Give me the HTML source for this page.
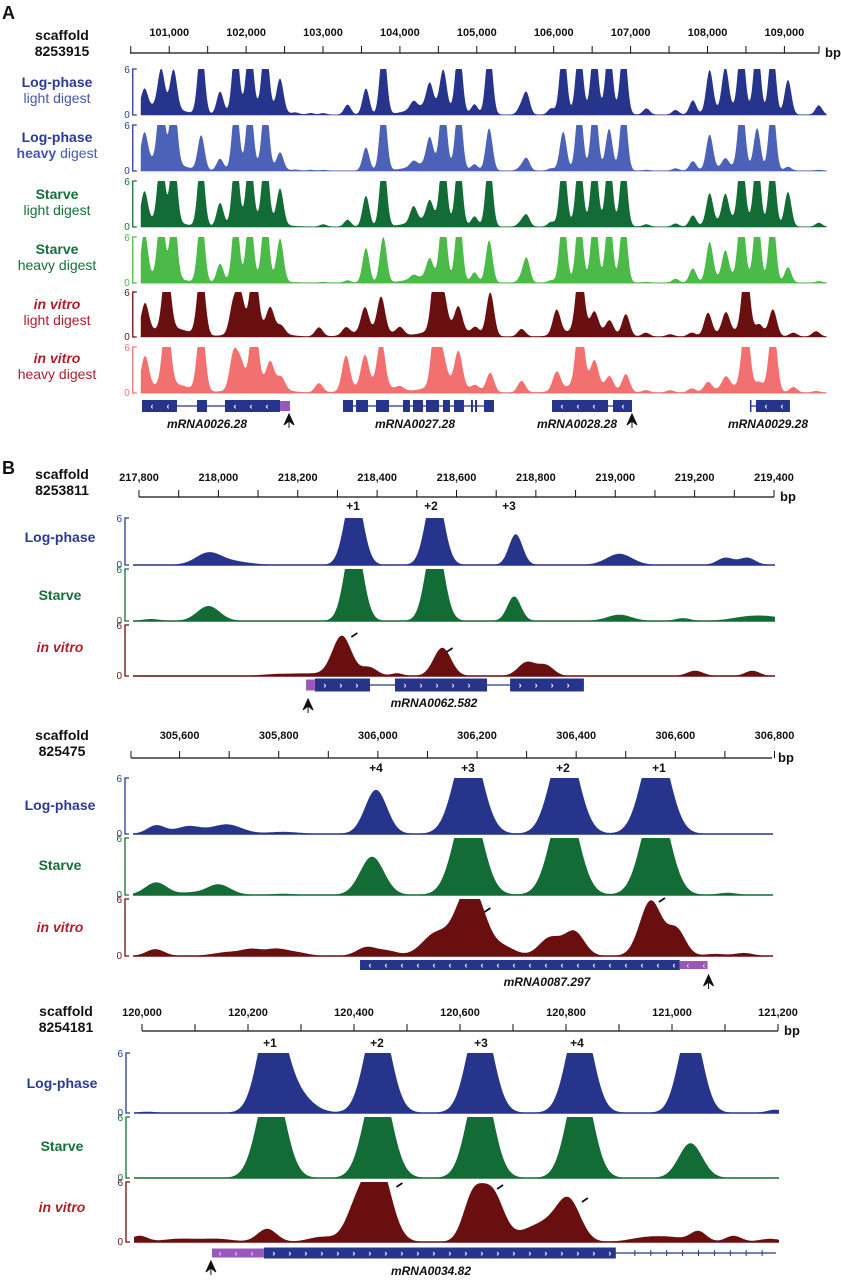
<!DOCTYPE html>
<html><head><meta charset="utf-8"><style>
html,body{margin:0;padding:0;background:#fff}
svg{display:block}
text{font-family:"Liberation Sans",Arial,sans-serif}
</style></head><body>
<svg id="fig" xmlns="http://www.w3.org/2000/svg" width="841" height="1280" viewBox="0 0 841 1280"></svg>
<script>
// ---------- Panel A data ----------
const aPos = [100677,100895,101056,101415,101661,101864,102047,102251,102441,102644,102841,103003,103319,103558,103783,104176,104387,104563,104766,104970,105160,105568,105645,105968,106123,106333,106530,106720,106910,107205,107584,107809,108027,108231,108442,108645,108842,109046,109447];
const aLogLight = [2.6,4.8,5.0,9,2.9,9,9,9,4.3,0.2,0.2,0.2,1.3,3.4,9,1.0,3.0,5.0,9,1.3,9,0.9,2.8,0.8,9,9,9,9,9,0.8,0.6,1.8,5.5,5.5,9,9,9,4.5,1.2];
const aLogHeavy = [4,9,9,4.5,1.5,9,9,9,2.2,0.1,0.1,0.1,0,3,9,0.7,3.5,9,9,0.8,5.5,0.4,1.6,0.3,5,9,9,5.3,9,0.1,0.3,1.2,4.5,1.2,9,5.3,9,0.5,0.1];
const aStarveLight = [4,9,9,9,3,9,9,9,4.6,0,0,0.3,0.9,4,9,2,2.5,9,9,1.3,9,0.5,1.5,0.6,9,9,9,9,9,0.3,0.4,1.4,4,3.5,9,9,9,4.5,0.5];
const aStarveHeavy = [6,9,9,9,2.4,9,9,9,5.5,0,0,0.1,0.3,4.5,5.9,0.5,2.4,9,9,1.3,5.5,0.5,3.2,0.3,9,9,9,9,9,0.1,0.5,1.8,5,3.5,9,9,9,2.0,0.2];
const aBgPos = [100880,102150,104380,106520,108350];
const aBgLogLight = [1.2,0.9,1.2,0.5,0.8];
const aBgLogHeavy = [1.5,0.4,0.9,0.2,0.5];
const aBgStarveLight = [0.9,0.8,1.0,0.5,0.9];
const aBgStarveHeavy = [0.9,0.5,0.8,0.3,0.8];
const vPos = [100684,100965,101415,101836,101928,102103,102314,102455,102947,103298,103544,103755,104001,104464,104563,104760,104984,105174,105582,106038,106341,106530,106727,106938,107198,107514,107795,108006,108238,108498,108674,108850,109116,109411];
const vLight = [4.0,9,9,4.0,4.7,9,3,1,1.2,1,3.2,4.6,1,9,4.4,3.1,1,5.8,1,3.3,9,2.5,1.8,2.9,0.5,0.3,0.5,3,2.7,9,1.3,3.5,0.5,0.7];
const vHeavy = [4.3,9,9,4.5,3,9,3,1.5,1.2,4.5,4,6,0.5,9,3,4.5,0.7,2.5,1.5,2.4,9,3.2,1.7,2.3,0.3,0.3,0.5,1.2,1.5,9,1,9,0.7,0.2];
const vBgPos = [101000,102150,103650,104600,106400,108400];
const vBgLight = [1.2,1.2,0.8,1.2,1.0,0.7];
const vBgHeavy = [1.2,1.4,1.0,1.2,1.2,0.8];
const aTicks = [101000,102000,103000,104000,105000,106000,107000,108000,109000];
const aTickLabels = ["101,000","102,000","103,000","104,000","105,000","106,000","107,000","108,000","109,000"];
const aMinor = [100500,101500,102500,103500,104500,105500,106500,107500,108500,109450];

// ---------- Panel B1 data ----------
const b1Ticks = [217800,218000,218200,218400,218600,218800,219000,219200,219400];
const b1TickLabels = ["217,800","218,000","218,200","218,400","218,600","218,800","219,000","219,200","219,400"];
const b1Minor = [217900,218100,218300,218500,218700,218900,219100,219300];
const b1LogPos = [217975,218040,218341,218545,218749,219010,219277,219332];
const b1LogVal = [1.5,0.4,10,10,3.9,1.4,0.9,0.9];
const b1StarvePos = [217830,217975,218341,218545,218745,219010,219170,219330,219390];
const b1StarveVal = [0.2,1.7,10,10,2.8,0.7,0.3,0.4,0.4];
const b1VitroPos = [218150,218230,218311,218380,218450,218564,218777,218825,219201,219345];
const b1VitroVal = [0.2,0.25,4.7,1.0,0.3,3.3,1.6,1.2,0.6,0.6];

// ---------- Panel B2 data ----------
const b2Ticks = [305600,305800,306000,306200,306400,306600,306800];
const b2TickLabels = ["305,600","305,800","306,000","306,200","306,400","306,600","306,800"];
const b2Minor = [305502,305700,305900,306100,306300,306500,306700];
const b2LogPos = [305553,305618,305695,305809,305996,306182,306376,306560];
const b2LogVal = [0.9,0.8,1.0,0.2,4.7,10,10,10];
const b2StarvePos = [305553,305620,305678,305809,305988,306182,306376,306560,306705];
const b2StarveVal = [1.3,0.2,1.1,0.1,4.0,10,10,10,0.2];
const b2VitroPos = [305551,305700,305747,305792,305830,305977,306020,306118,306173,306200,306250,306347,306396,306550,306602,306680,306738];
const b2VitroVal = [0.7,0.4,0.6,0.6,0.4,0.9,0.5,2.4,4.5,4.4,1.0,1.9,2.5,5.8,2.7,0.2,0.3];

// ---------- Panel B3 data ----------
const b3Ticks = [120000,120200,120400,120600,120800,121000,121200];
const b3TickLabels = ["120,000","120,200","120,400","120,600","120,800","121,000","121,200"];
const b3Minor = [120100,120300,120500,120700,120900,121100];
const b3LogPos = [120010,120244,120285,120445,120638,120826,121035,121195];
const b3LogVal = [0.1,10,2.2,10,10,10,9,0.3];
const b3StarvePos = [120244,120445,120638,120826,121035];
const b3StarveVal = [10,10,10,10,3.4];
const b3VitroPos = [119995,120070,120140,120236,120340,120404,120445,120623,120660,120730,120770,120806,120950,121000,121050,121116,121185];
const b3VitroVal = [0.6,0.3,0.3,1.3,0.5,3.0,8,4.0,5.0,1.0,1.5,3.9,0.4,0.4,1.0,0.6,0.3];

const NS = "http://www.w3.org/2000/svg";
const svg = document.getElementById('fig');
function el(tag, attrs, parent){ const e=document.createElementNS(NS,tag); for(const k in attrs) e.setAttribute(k,attrs[k]); (parent||svg).appendChild(e); return e; }
function txt(str, attrs, parent){ const e=el('text',attrs,parent); e.textContent=str; return e; }
function scale(bp0,bp1,x0,x1){ return bp=> x0+(bp-bp0)*(x1-x0)/(bp1-bp0); }

function drawAxis(g, sx, y, ticks, labels, minor, xA, xB, ly){
  const line=el('line',{x1:xA,y1:y,x2:xB,y2:y,stroke:'#111','stroke-width':1.2},g);
  
  
  ticks.forEach((t,i)=>{
    const x=sx(t);
    el('line',{x1:x,y1:y,x2:x,y2:y-7,stroke:'#111','stroke-width':1},g);
    const tl=txt(labels[i],{x:x,y:ly,'text-anchor':'middle','font-size':11,'font-weight':'bold',fill:'#111'},g);
    
    
  });
  minor.forEach(t=>{ const x=sx(t); el('line',{x1:x,y1:y,x2:x,y2:y-7,stroke:'#111','stroke-width':1},g); });
  const bp=txt('bp',{x:xB+6,y:y+4,'font-size':13,'font-weight':'bold',fill:'#111'},g);
  
  
}

function drawTrack(g, sx, bp0, bp1, x0, x1, top, base, pos, val, sigma, bgPos, bgVal, bgSigma, color, axisColor, baseColor, floor){
  const g2=el('g',{},g);
  
  
  const bx=x0-8;
  el('path',{d:`M${bx+4},${top} H${bx} V${base} H${bx+4}`,fill:'none',stroke:axisColor,'stroke-width':1.3},g2);
  txt('6',{x:bx-3,y:top+4,'text-anchor':'end','font-size':10,fill:axisColor},g2);
  txt('0',{x:bx-3,y:base+3,'text-anchor':'end','font-size':10,fill:axisColor},g2);
  el('line',{x1:x0,y1:base,x2:x1,y2:base,stroke:baseColor,'stroke-width':1.5},g2);
  let d=`M${x0},${base}`;
  const k=(bp1-bp0)/(x1-x0);
  for(let px=x0; px<=x1; px+=0.5){
    const b=bp0+(px-x0)*k;
    let v=floor;
    for(let i=0;i<pos.length;i++){ const s=Array.isArray(sigma)?sigma[i]:sigma; const z=(b-pos[i])/s; if(Math.abs(z)<6) v+=val[i]*Math.exp(-z*z/2); }
    if(bgPos) for(let i=0;i<bgPos.length;i++){ const z=(b-bgPos[i])/bgSigma; v+=bgVal[i]*Math.exp(-z*z/2); }
    v=Math.min(v,6);
    d+=` L${px.toFixed(1)},${(base-v/6*(base-top)).toFixed(1)}`;
  }
  d+=` L${x1},${base} Z`;
  const p=el('path',{d:d,fill:color,stroke:'none'},g2);
  
  
}

function label2(g, x, y, l1, l2, c1, c2, it, boldWord){
  const t=txt('',{x:x,y:y,'text-anchor':'middle','font-size':14,'font-weight':'bold',fill:c1,'font-style':it?'italic':'normal'},g);
  t.textContent=l1;
  
  
  if(l2){
    const t2=el('text',{x:x,y:y+16,'text-anchor':'middle','font-size':14,fill:c2},g);
    
    
    if(boldWord){ const s=el('tspan',{'font-weight':'bold'},t2); s.textContent=boldWord+' '; }
    const s2=el('tspan',{},t2); s2.textContent=l2;
  }
}

function gene(g, sx, y, h, exons, utr, lineA, lineB, chev, color){
  const gg=el('g',{},g);
  
  
  el('line',{x1:sx(lineA),y1:y,x2:sx(lineB),y2:y,stroke:color,'stroke-width':1.3},gg);
  exons.forEach(e=>{
    const xa=sx(e[0]), xb=sx(e[1]);
    el('rect',{x:xa,y:y-h/2,width:Math.max(1.5,xb-xa),height:h,fill:color},gg);
    if(chev) for(let x=xa+10; x<xb-5; x+=16) txt(chev,{x:x,y:y+3,'font-size':9,'font-weight':'bold',fill:'#fff','text-anchor':'middle'},gg);
  });
  if(utr){ const xa=sx(utr[0]), xb=sx(utr[1]); el('rect',{x:xa,y:y-h/2+1,width:xb-xa,height:h-2,fill:'#9a58b8'},gg);
    if(chev) for(let x=xa+8; x<xb-3; x+=16) txt(chev,{x:x,y:y+3,'font-size':8,fill:'#fff','text-anchor':'middle'},gg); }
}
function arrow(g,x,y){
  const a=el('path',{d:`M${x},${y} L${x-5},${y+11} L${x},${y+7} L${x+5},${y+11} Z M${x},${y+6} V${y+14}`,fill:'#111',stroke:'#111','stroke-width':1},g);
  
  
}
function italicLabel(g,s,x,y){ const t=txt(s,{x:x,y:y,'text-anchor':'middle','font-size':12,'font-weight':'bold','font-style':'italic',fill:'#111'},g);   }
function dash(g,x,y){ const d=el('line',{x1:x,y1:y,x2:x+6,y2:y-4,stroke:'#111','stroke-width':1.8},g);   }
function scaffold(g,x,y,id){ txt('scaffold',{x:x,y:y,'text-anchor':'middle','font-size':14,'font-weight':'bold',fill:'#111'},g); txt(id,{x:x,y:y+16,'text-anchor':'middle','font-size':14,'font-weight':'bold',fill:'#111'},g); }
function nlabel(g,s,x,y){ const t=txt(s,{x:x,y:y,'text-anchor':'middle','font-size':12,'font-weight':'bold',fill:'#111'},g);   }

const BLUE='#27348b', BLUE2='#4b62b6', GREEN='#136b35', GREEN2='#4bba48', RED='#6a0f10', RED2='#f2706f';
const LBLUE='#2b3a94', LGREEN='#15703a', LRED='#b01e2a';

// ---------- Panel A ----------
const gA=el('g',{});  
txt('A',{x:2,y:19,'font-size':18,'font-weight':'bold',fill:'#111'},gA);
scaffold(gA,62,40,'8253915');
const sA=scale(100490,109450,130,819);
drawAxis(gA,sA,53,aTicks,aTickLabels,aMinor,130,819,36);
const aBp0=100630, aBp1=109550;
const aX0=sA(aBp0), aX1=sA(aBp1);
const aTracks=[
 [69,115,aLogLight,aBgLogLight,BLUE,LBLUE],
 [125,171,aLogHeavy,aBgLogHeavy,BLUE2,LBLUE],
 [181,227,aStarveLight,aBgStarveLight,GREEN,LGREEN],
 [237,283,aStarveHeavy,aBgStarveHeavy,GREEN2,GREEN2]];
aTracks.forEach(t=>drawTrack(gA,sA,aBp0,aBp1,aX0,aX1,t[0],t[1],aPos,t[2],44,aBgPos,t[3],230,t[4],t[5],'#bbb',0.05));
drawTrack(gA,sA,aBp0,aBp1,aX0,aX1,292,337,vPos,vLight,50,vBgPos,vBgLight,230,RED,'#6a0f10','#bbb',0.07);
drawTrack(gA,sA,aBp0,aBp1,aX0,aX1,347,393,vPos,vHeavy,50,vBgPos,vBgHeavy,230,RED2,RED2,'#bbb',0.07);
label2(gA,57,87,'Log-phase','light digest',LBLUE,'#4658ad');
label2(gA,57,142,'Log-phase','digest',LBLUE,'#4658ad',false,'heavy');
label2(gA,57,199,'Starve','light digest',LGREEN,LGREEN);
label2(gA,57,254,'Starve','heavy digest',LGREEN,LGREEN);
label2(gA,57,309,'in vitro','light digest',LRED,LRED,true);
label2(gA,57,363,'in vitro','heavy digest',LRED,LRED,true);
gene(gA,sA,406,12,[[100646,101101],[101361,101491],[101725,102441]],[102441,102571],100646,102441,'‹',BLUE);
gene(gA,sA,406,12,[[103260,103390],[103429,103585],[103689,103858],[104040,104131],[104170,104300],[104339,104508],[104560,104651],[104703,104833],[104924,104950],[104977,105003],[105093,105223]],null,103260,105223,null,BLUE);
gene(gA,sA,406,12,[[105978,106706],[106771,107018]],null,105978,107018,'‹',BLUE);
gene(gA,sA,406,12,[[108552,108565],[108630,109072]],null,108552,109072,'‹',BLUE);
arrow(gA,sA(102558),414); arrow(gA,sA(107018),414);
italicLabel(gA,'mRNA0026.28',207,428); italicLabel(gA,'mRNA0027.28',415,428);
italicLabel(gA,'mRNA0028.28',577,428); italicLabel(gA,'mRNA0029.28',768,428);

// ---------- Panel B1 ----------
const gB=el('g',{});  
txt('B',{x:2,y:474,'font-size':18,'font-weight':'bold',fill:'#111'},gB);
scaffold(gB,62,479,'8253811');
const s1=scale(217800,219400,139,774);
drawAxis(gB,s1,497,b1Ticks,b1TickLabels,b1Minor,139,774,481);
const b1x0=133,b1x1=775,b1bp0=217800+(133-139)/0.397,b1bp1=217800+(775-139)/0.397;
drawTrack(gB,s1,b1bp0,b1bp1,b1x0,b1x1,518,565,b1LogPos,b1LogVal,[32,40,22,22,17,32,20,20],null,null,1,BLUE,LBLUE,BLUE,0.03);
drawTrack(gB,s1,b1bp0,b1bp1,b1x0,b1x1,569,621,b1StarvePos,b1StarveVal,[20,28,22,22,17,30,18,40,40],null,null,1,GREEN,LGREEN,GREEN,0.03);
drawTrack(gB,s1,b1bp0,b1bp1,b1x0,b1x1,625,676,b1VitroPos,b1VitroVal,[40,40,24,20,15,22,22,20,20,18],null,null,1,RED,'#6a0f10',RED,0.02);
nlabel(gB,'+1',353,510); nlabel(gB,'+2',431,510); nlabel(gB,'+3',509,510);
label2(gB,60,542,'Log-phase',null,LBLUE); label2(gB,60,600,'Starve',null,LGREEN); label2(gB,60,652,'in vitro',null,LRED,null,true);
dash(gB,s1(218335),637); dash(gB,s1(218575),652);
gene(gB,s1,685,13,[[218243,218382],[218445,218677],[218735,218921]],[218221,218243],218221,218921,'›',BLUE);
arrow(gB,s1(218226),699);
italicLabel(gB,'mRNA0062.582',434,707);

// ---------- Panel B2 ----------
scaffold(gB,62,740,'825475');
const s2=scale(305502,306795,131,772);
drawAxis(gB,s2,758,b2Ticks,b2TickLabels,b2Minor,131,772,739);
const b2x0=133,b2x1=773,b2bp0=305502+(133-131)/0.496,b2bp1=305502+(773-131)/0.496;
drawTrack(gB,s2,b2bp0,b2bp1,b2x0,b2x1,778,834,b2LogPos,b2LogVal,[18,25,30,30,22,28,28,28],null,null,1,BLUE,LBLUE,BLUE,0.03);
drawTrack(gB,s2,b2bp0,b2bp1,b2x0,b2x1,838,895,b2StarvePos,b2StarveVal,[22,20,24,20,24,28,28,28,18],null,null,1,GREEN,LGREEN,GREEN,0.03);
drawTrack(gB,s2,b2bp0,b2bp1,b2x0,b2x1,899,956,b2VitroPos,b2VitroVal,[18,30,20,20,25,20,20,28,22,22,25,22,20,22,18,20,18],null,null,1,RED,'#6a0f10',RED,0.02);
nlabel(gB,'+4',376,772); nlabel(gB,'+3',468,772); nlabel(gB,'+2',563,772); nlabel(gB,'+1',659,772);
label2(gB,60,810,'Log-phase',null,LBLUE); label2(gB,60,870,'Starve',null,LGREEN); label2(gB,60,932,'in vitro',null,LRED,null,true);
dash(gB,s2(306215),912); dash(gB,s2(306567),902);
gene(gB,s2,965,10,[[305964,306609]],[306609,306665],305964,306665,'‹',BLUE);
arrow(gB,s2(306667),975);
italicLabel(gB,'mRNA0087.297',547,986);

// ---------- Panel B3 ----------
scaffold(gB,66,1016,'8254181');
const s3=scale(120000,121200,142,778);
drawAxis(gB,s3,1031,b3Ticks,b3TickLabels,b3Minor,142,778,1016);
const b3x0=134,b3x1=779,b3bp0=120000+(134-142)/0.53,b3bp1=120000+(779-142)/0.53;
drawTrack(gB,s3,b3bp0,b3bp1,b3x0,b3x1,1053,1113,b3LogPos,b3LogVal,[15,24,30,24,24,24,22,15],null,null,1,BLUE,LBLUE,BLUE,0.03);
drawTrack(gB,s3,b3bp0,b3bp1,b3x0,b3x1,1117,1178,b3StarvePos,b3StarveVal,[25,25,24,24,22],null,null,1,GREEN,LGREEN,GREEN,0.02);
drawTrack(gB,s3,b3bp0,b3bp1,b3x0,b3x1,1182,1242,b3VitroPos,b3VitroVal,[15,30,30,18,25,20,24,18,22,25,25,22,30,30,15,15,20],null,null,1,RED,'#6a0f10',RED,0.02);
nlabel(gB,'+1',270,1047); nlabel(gB,'+2',377,1047); nlabel(gB,'+3',481,1047); nlabel(gB,'+4',577,1047);
label2(gB,62,1088,'Log-phase',null,LBLUE); label2(gB,62,1151,'Starve',null,LGREEN); label2(gB,62,1212,'in vitro',null,LRED,null,true);
dash(gB,s3(120480),1187); dash(gB,s3(120670),1189); dash(gB,s3(120830),1202);
gene(gB,s3,1253,11,[[120230,120894]],[120132,120230],120132,121196,'›',BLUE);
(function(){ for(let b=120930;b<121200;b+=30){ const x=s3(b); el('line',{x1:x,y1:1250,x2:x,y2:1256,stroke:BLUE,'stroke-width':1},gB);} })();
arrow(gB,s3(120130),1261);
italicLabel(gB,'mRNA0034.82',431,1275);
</script>
</body></html>
